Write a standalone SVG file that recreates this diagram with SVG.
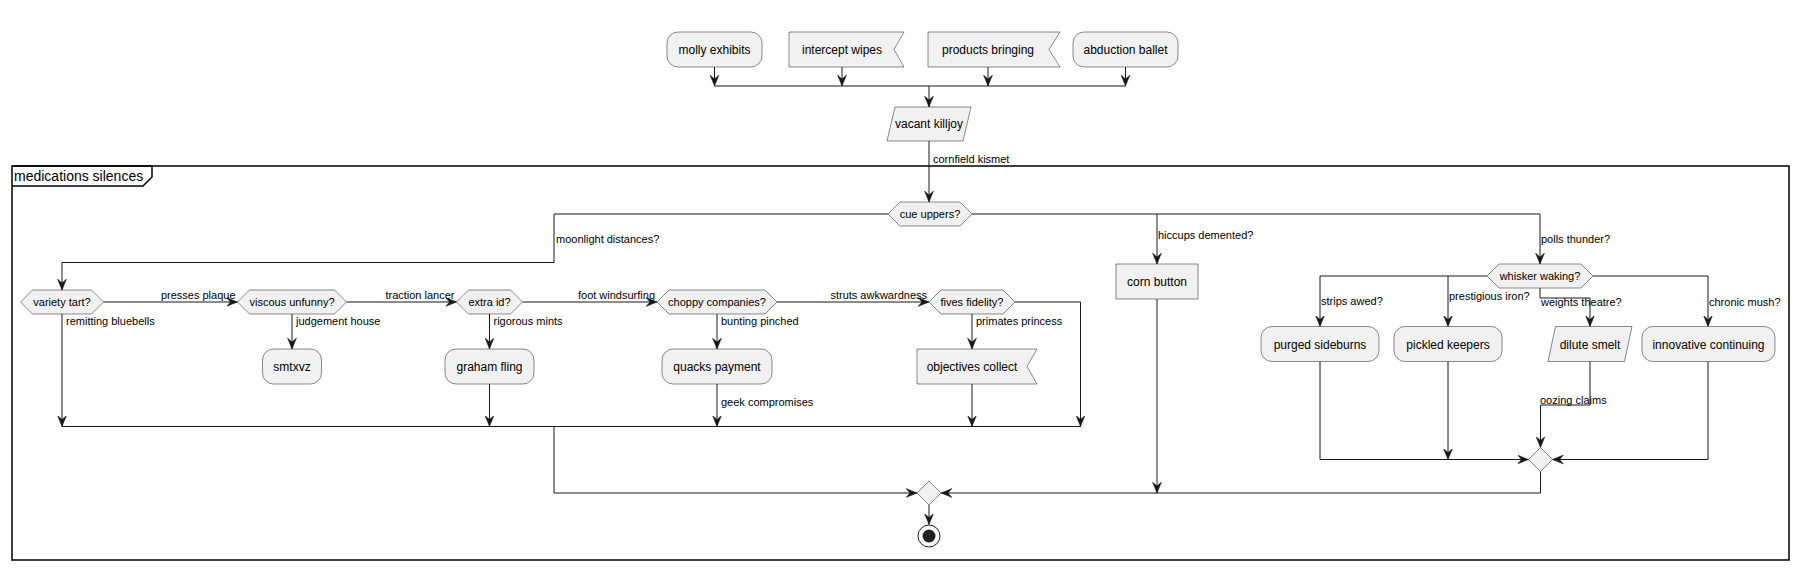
<svg xmlns="http://www.w3.org/2000/svg" width="1799" height="569" viewBox="0 0 1799 569">
<defs>
<marker id="arr" viewBox="0 0 11 10" refX="11" refY="5" markerWidth="11" markerHeight="10" orient="auto" markerUnits="userSpaceOnUse"><path d="M0,0.5 L11,5 L0,9.5 L4,5 Z" fill="#181818" stroke="#181818" stroke-width="0.5"/></marker>
</defs>
<style>
.n{fill:#F1F1F1;stroke:#181818;stroke-width:0.5}
.t{font-family:"Liberation Sans",Arial,sans-serif;font-size:12px;fill:#000;text-anchor:middle}
.d{font-size:11px}
.l{font-family:"Liberation Sans",Arial,sans-serif;font-size:11px;fill:#000}
.e{text-anchor:end}
.c{fill:none;stroke:#181818;stroke-width:1}
.a{marker-end:url(#arr)}
</style>
<rect x="0" y="0" width="1799" height="569" fill="#FFFFFF"/>
<g id="group-medications-silences">
<rect x="12" y="166" width="1777" height="394" fill="none" stroke="#000" stroke-width="1.5"/>
<path d="M12,166 H152 V177 L143,186 H12" fill="none" stroke="#000" stroke-width="1.5"/>
<text x="14" y="181" font-family="Liberation Sans, Arial, sans-serif" font-size="14">medications silences</text>
</g>
<g id="connectors">
<path class="c a" d="M714.5,67 V86"/>
<path class="c a" d="M842,67 V86"/>
<path class="c a" d="M988,67 V86"/>
<path class="c a" d="M1125.5,67 V86"/>
<path class="c" d="M714.5,86 H1125.5" stroke-width="2"/>
<path class="c a" d="M929,86 V107"/>
<path class="c a" d="M929,141 V202"/>
<path class="c a" d="M888,214 H554 V262.5 H62 V290"/>
<path class="c a" d="M972,214 H1540 V264"/>
<path class="c a" d="M1157,214 V264"/>
<path class="c a" d="M103.5,302 H237.5"/>
<path class="c a" d="M346.5,302 H456.5"/>
<path class="c a" d="M522.5,302 H657"/>
<path class="c a" d="M777,302 H929"/>
<path class="c a" d="M1015,302 H1080.5 V426.5"/>
<path class="c a" d="M62,314 V426.5"/>
<path class="c a" d="M292,314 V349"/>
<path class="c a" d="M489.5,314 V349"/>
<path class="c a" d="M717,314 V349"/>
<path class="c a" d="M972,314 V349"/>
<path class="c a" d="M489.5,384 V426.5"/>
<path class="c a" d="M717,384 V426.5"/>
<path class="c a" d="M972,384 V426.5"/>
<path class="c" d="M62,426.5 H1080.5"/>
<path class="c a" d="M554,426.5 V493 H917"/>
<path class="c a" d="M1157,299 V493"/>
<path class="c a" d="M1540.5,471.5 V493 H941"/>
<path class="c a" d="M1487,276 H1320 V326.5"/>
<path class="c a" d="M1448,276 V326.5"/>
<path class="c a" d="M1540,288 V298 H1590 V326.5"/>
<path class="c a" d="M1593,276 H1708 V326.5"/>
<path class="c a" d="M1320,361.5 V459.5 H1528.5"/>
<path class="c a" d="M1448,361.5 V459.5"/>
<path class="c a" d="M1590,361.5 V405 H1540.5 V447.5"/>
<path class="c a" d="M1708,361.5 V459.5 H1552.5"/>
<path class="c a" d="M929,505 V524.5"/>
<text class="l" x="933" y="163">cornfield kismet</text>
<text class="l" x="556" y="243">moonlight distances?</text>
<text class="l" x="1158" y="239">hiccups demented?</text>
<text class="l" x="1541" y="243">polls thunder?</text>
<text class="l e" x="235.5" y="299">presses plaque</text>
<text class="l e" x="454.5" y="299">traction lancer</text>
<text class="l e" x="655" y="299">foot windsurfing</text>
<text class="l e" x="927" y="299">struts awkwardness</text>
<text class="l" x="66" y="325">remitting bluebells</text>
<text class="l" x="296" y="325">judgement house</text>
<text class="l" x="493.5" y="325">rigorous mints</text>
<text class="l" x="721" y="325">bunting pinched</text>
<text class="l" x="976" y="325">primates princess</text>
<text class="l" x="721" y="406">geek compromises</text>
<text class="l" x="1321" y="305">strips awed?</text>
<text class="l" x="1449" y="300">prestigious iron?</text>
<text class="l" x="1541" y="306">weights theatre?</text>
<text class="l" x="1709" y="306">chronic mush?</text>
<text class="l" x="1540" y="404">oozing claims</text>
</g>
<g id="molly-exhibits"><rect class="n" x="667" y="32" width="95" height="35" rx="11"/><text class="t" x="714.5" y="54">molly exhibits</text></g>
<g id="intercept-wipes"><polygon class="n" points="789,32 904,32 894,49.5 904,67 789,67"/><text class="t" x="842" y="54">intercept wipes</text></g>
<g id="products-bringing"><polygon class="n" points="928,32 1060,32 1049,49.5 1060,67 928,67"/><text class="t" x="988" y="54">products bringing</text></g>
<g id="abduction-ballet"><rect class="n" x="1073" y="32" width="105" height="35" rx="11"/><text class="t" x="1125.5" y="54">abduction ballet</text></g>
<g id="vacant-killjoy"><polygon class="n" points="895,107 971,107 963,141 887,141"/><text class="t" x="929" y="128">vacant killjoy</text></g>
<g id="cue-uppers"><polygon class="n" points="888,214 900,202 960,202 972,214 960,226 900,226"/><text class="t d" x="930" y="218">cue uppers?</text></g>
<g id="variety-tart"><polygon class="n" points="20.5,302 32.5,290 91.5,290 103.5,302 91.5,314 32.5,314"/><text class="t d" x="62" y="306">variety tart?</text></g>
<g id="viscous-unfunny"><polygon class="n" points="237.5,302 249.5,290 334.5,290 346.5,302 334.5,314 249.5,314"/><text class="t d" x="292" y="306">viscous unfunny?</text></g>
<g id="extra-id"><polygon class="n" points="456.5,302 468.5,290 510.5,290 522.5,302 510.5,314 468.5,314"/><text class="t d" x="489.5" y="306">extra id?</text></g>
<g id="choppy-companies"><polygon class="n" points="657,302 669,290 765,290 777,302 765,314 669,314"/><text class="t d" x="717" y="306">choppy companies?</text></g>
<g id="fives-fidelity"><polygon class="n" points="929,302 941,290 1003,290 1015,302 1003,314 941,314"/><text class="t d" x="972" y="306">fives fidelity?</text></g>
<g id="smtxvz"><rect class="n" x="262.5" y="349" width="59" height="35" rx="11"/><text class="t" x="292" y="371">smtxvz</text></g>
<g id="graham-fling"><rect class="n" x="445" y="349" width="89" height="35" rx="11"/><text class="t" x="489.5" y="371">graham fling</text></g>
<g id="quacks-payment"><rect class="n" x="662" y="349" width="110" height="35" rx="11"/><text class="t" x="717" y="371">quacks payment</text></g>
<g id="objectives-collect"><polygon class="n" points="917,349 1037,349 1027,366.5 1037,384 917,384"/><text class="t" x="972" y="371">objectives collect</text></g>
<g id="corn-button"><rect class="n" x="1116" y="264" width="82" height="35"/><text class="t" x="1157" y="286">corn button</text></g>
<g id="whisker-waking"><polygon class="n" points="1487,276 1499,264 1581,264 1593,276 1581,288 1499,288"/><text class="t d" x="1540" y="280">whisker waking?</text></g>
<g id="purged-sideburns"><rect class="n" x="1261" y="326.5" width="118" height="35" rx="11"/><text class="t" x="1320" y="348.5">purged sideburns</text></g>
<g id="pickled-keepers"><rect class="n" x="1394" y="326.5" width="108" height="35" rx="11"/><text class="t" x="1448" y="348.5">pickled keepers</text></g>
<g id="dilute-smelt"><polygon class="n" points="1555.5,326.5 1632,326.5 1624.5,361.5 1548,361.5"/><text class="t" x="1590" y="348.5">dilute smelt</text></g>
<g id="innovative-continuing"><rect class="n" x="1642" y="326.5" width="133" height="35" rx="11"/><text class="t" x="1708.5" y="348.5">innovative continuing</text></g>
<g id="merge-right"><polygon class="n" points="1528.5,459.5 1540.5,447.5 1552.5,459.5 1540.5,471.5"/></g>
<g id="merge-final"><polygon class="n" points="917,493 929,481 941,493 929,505"/></g>
<g id="end"><circle cx="929" cy="536" r="11" fill="none" stroke="#222" stroke-width="1"/><circle cx="929" cy="536" r="6.5" fill="#222"/></g>
</svg>
